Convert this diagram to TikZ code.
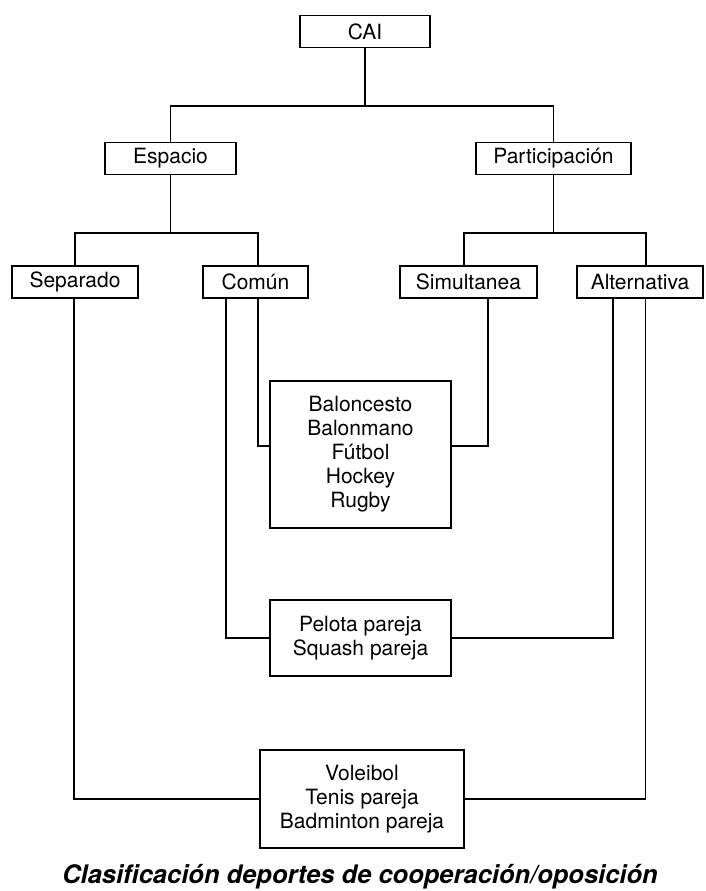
\documentclass[tikz,border=0pt]{standalone}
\usepackage{fontspec}
\setmainfont{TeX Gyre Heros}
\usepackage{tikz}

\tikzset{
    box/.style={draw, line width=1.3pt, inner sep=0pt, minimum height=32pt,
        align=center, font=\fontsize{21}{24}\selectfont},
    link/.style={line width=1.3pt}
}

\begin{document}
\begin{tikzpicture}[x=1pt, y=-1pt]
    \useasboundingbox (0,0) rectangle (706,891);

    % Levels
    \node[box, minimum width=130pt] (cai) at (365,31.5) {CAI};
    \node[box, minimum width=131pt] (espacio) at (170.5,158.5) {Espacio};
    \node[box, minimum width=155pt] (partic) at (553.5,158.5) {Participación};
    \node[box, minimum width=126pt] (separado) at (75,282) {Separado};
    \node[box, minimum width=105pt] (comun) at (255.5,282) {Común};
    \node[box, minimum width=137pt] (simul) at (468.5,282) {Simultanea};
    \node[box, minimum width=126pt] (alter) at (640,282) {Alternativa};

    % Sports
    \node[box, minimum width=181pt, minimum height=147pt] (balon) at (360.5,454.5)
        {Baloncesto\\Balonmano\\Fútbol\\Hockey\\Rugby};
    \node[box, minimum width=181pt, minimum height=76pt] (pelota) at (360.5,638)
        {Pelota pareja\\Squash pareja};
    \node[box, minimum width=204pt, minimum height=98pt] (volei) at (362,799)
        {Voleibol\\Tenis pareja\\Badminton pareja};

    % Tree
    \coordinate (split1) at (365,106);
    \coordinate (split2) at (170.5,233);
    \coordinate (split3) at (553.5,233);
    \draw[link] (cai) -- (split1) -| (espacio);
    \draw[link] (split1) -| (partic);
    \draw[link] (espacio) -- (split2);
    \draw[link] (separado) |- (split2) -| ([xshift=2.5pt]comun.north);
    \draw[link] (partic) -- (split3);
    \draw[link] ([xshift=-4.5pt]simul.north) |- (split3) -| ([xshift=6pt]alter.north);

    % Links to sports
    \draw[link] ([xshift=-1pt]separado.south) |- (volei.west);
    \draw[link] ([xshift=-29.5pt]comun.south) |- (pelota.west);
    \draw[link] ([xshift=2.5pt]comun.south) |- ([yshift=8.5pt]balon.west);
    \draw[link] ([xshift=19.5pt]simul.south) |- ([yshift=8.5pt]balon.east);
    \draw[link] ([xshift=-27pt]alter.south) |- (pelota.east);
    \draw[link] ([xshift=5.5pt]alter.south) |- (volei.east);

    % Caption
    \node[font=\fontsize{25.5}{30}\selectfont\bfseries\itshape] (caption) at (360,877)
        {Clasificación deportes de cooperación/oposición};
\end{tikzpicture}
\end{document}
